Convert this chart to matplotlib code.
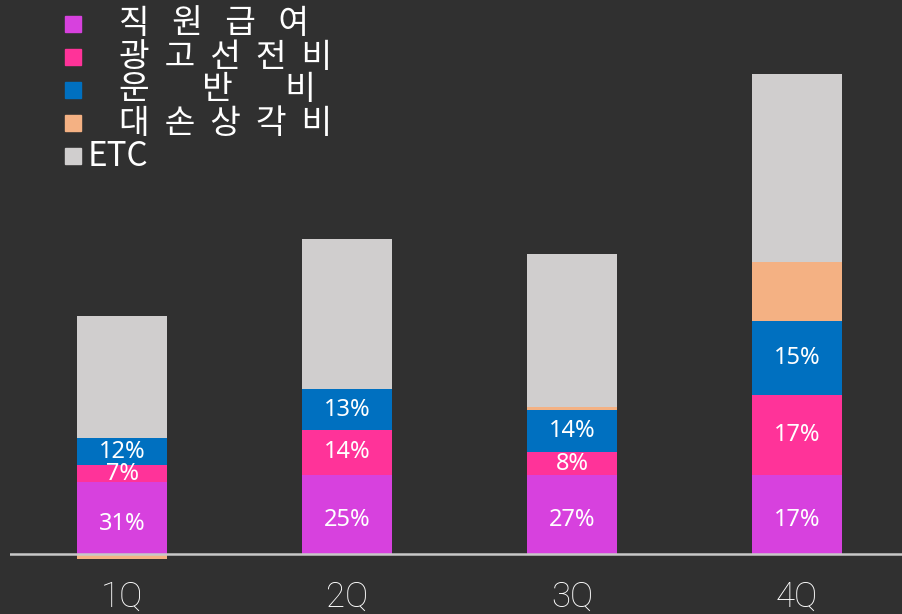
import matplotlib
matplotlib.use("Agg")
import matplotlib.pyplot as plt
from matplotlib.patches import Rectangle

# quarterly cost breakdown (stacked, units)
quarters = ["1Q", "2Q", "3Q", "4Q"]
staff = [72, 79, 79, 79]
advert = [17, 45, 23, 80]
transport = [27, 41, 42, 74]
bad_debt = [-5, 0, 3, 59]
etc = [122, 150, 153, 188]

staff_lbl = ["31%", "25%", "27%", "17%"]
advert_lbl = ["7%", "14%", "8%", "17%"]
transport_lbl = ["12%", "13%", "14%", "15%"]

names = ["직   원   급   여", "광  고  선  전  비", "운       반       비", "대  손  상  각  비", "ETC"]
colors = ["#D741DE", "#FF3399", "#0070C0", "#F4B183", "#D0CECE"]

BG = "#303030"
FONT = ["Noto Sans CJK KR", "DejaVu Sans"]
NUM_FONT = ["Noto Sans", "DejaVu Sans"]
plt.rcParams["font.family"] = FONT

W, H = 902, 614
fig = plt.figure(figsize=(W / 100, H / 100), dpi=100, facecolor=BG)
ax = fig.add_axes([10 / W, 0, 1 - 10 / W, 1])
ax.set_facecolor(BG)
ax.set_xlim(-0.498, 3.467)
ax.set_ylim(-60, 554)
ax.axis("off")

x = range(len(quarters))
width = 0.4
b1 = [s + a for s, a in zip(staff, advert)]
b2 = [v + t for v, t in zip(b1, transport)]
bd_bottom = [v if b >= 0 else 0 for v, b in zip(b2, bad_debt)]
etc_bottom = [v + max(b, 0) for v, b in zip(b2, bad_debt)]

c_staff = ax.bar(x, staff, width, color=colors[0])
c_adv = ax.bar(x, advert, width, bottom=staff, color=colors[1])
c_tr = ax.bar(x, transport, width, bottom=b1, color=colors[2])
ax.bar(x, bad_debt, width, bottom=bd_bottom, color=colors[3])
ax.bar(x, etc, width, bottom=etc_bottom, color=colors[4])

lbl_kw = dict(label_type="center", color="white", fontsize=17, family=NUM_FONT)
ax.bar_label(c_staff, labels=staff_lbl, padding=-4, **lbl_kw)
ax.bar_label(c_adv, labels=advert_lbl, **lbl_kw)
ax.bar_label(c_tr, labels=transport_lbl, fontweight="light", **lbl_kw)

ax.axhline(0, color="#c8c8c8", lw=1.8, zorder=5)

for i, q in enumerate(quarters):
    ax.text(i, -43, q, color="white", fontsize=25, ha="center", va="center",
            family=["Roboto", "DejaVu Sans"], fontweight="light")

# legend drawn by hand (marker squares + spaced labels)
for i, (name, c) in enumerate(zip(names, colors)):
    yc = 24 + 33 * i
    fig.patches.append(Rectangle((65 / W, 1 - (yc + 8) / H), 16 / W, 16 / H,
                                 transform=fig.transFigure, color=c))
    tx = 88 if name == "ETC" else 119
    fig.text(tx / W, 1 - yc / H, name, color="white", fontsize=24,
             ha="left", va="center", family=FONT)

fig.savefig("out.png", dpi=100, facecolor=BG)
